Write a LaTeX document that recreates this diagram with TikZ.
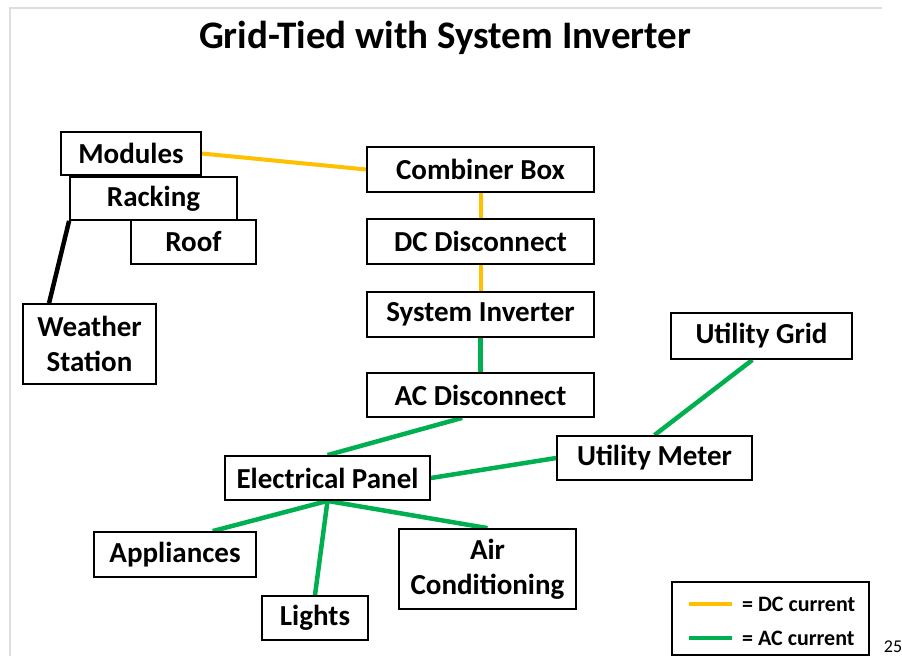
\documentclass[tikz,border=0pt]{standalone}
\usepackage{fontspec}
\setmainfont{Carlito}
\usepackage{tikz}
\usetikzlibrary{backgrounds, calc}
\definecolor{DCYellow}{RGB}{255,192,0}
\definecolor{ACGreen}{RGB}{0,176,80}
\definecolor{SlideGray}{RGB}{222,222,222}

\begin{document}
\begin{tikzpicture}[x=1pt, y=-1pt,
  part/.style={draw=black, line width=1.8pt, fill=white, inner sep=0pt,
               align=center, font=\fontsize{29}{35}\selectfont\bfseries},
  dcwire/.style={DCYellow, line width=4pt},
  acwire/.style={ACGreen, line width=4.5pt},
  mountwire/.style={black, line width=4.5pt}]
\useasboundingbox (0,0) rectangle (902,656);

% Slide frame
\draw[SlideGray, line width=1.5pt] (10,656) -- (10,8) -- (882,8);

% Title
\node[font=\fontsize{39}{45}\selectfont\bfseries] (title) at (445,38)
  {Grid-Tied with System Inverter};

% Array side: modules on racking on roof
\node[part, minimum width=140pt, minimum height=43pt] (modules) at (131,153.5) {Modules};
\node[part, minimum width=167pt, minimum height=43pt] (racking) at (153.5,198.5) {Racking};
\node[part, minimum width=125pt, minimum height=44pt] (roof) at (193.5,242) {Roof};
\node[part, minimum width=133pt, minimum height=80pt] (weather) at (89.5,344) {Weather\\Station};

% DC chain down to the inverter
\node[part, minimum width=227pt, minimum height=45pt] (combiner) at (480.5,169.5) {Combiner Box};
\node[part, minimum width=227pt, minimum height=45pt] (dcdisc) at (480.5,241.5) {DC Disconnect};
\node[part, minimum width=227pt, minimum height=45pt] (inverter) at (480.5,314.5) {System Inverter};
\node[part, minimum width=227pt, minimum height=44pt] (acdisc) at (480.5,395) {AC Disconnect};

% AC side
\node[part, minimum width=205pt, minimum height=44pt] (panel) at (327.5,478) {Electrical Panel};
\node[part, minimum width=195pt, minimum height=44pt] (meter) at (654.5,458) {Utility Meter};
\node[part, minimum width=181pt, minimum height=46pt] (grid) at (761.5,336) {Utility Grid};
\node[part, minimum width=162pt, minimum height=45pt] (appliances) at (175,554.5) {Appliances};
\node[part, minimum width=106pt, minimum height=44pt] (lights) at (315,618) {Lights};
\node[part, minimum width=177pt, minimum height=80pt] (aircon) at (487.5,569) {Air\\Conditioning};

% Wires
\begin{scope}[on background layer]
  \draw[mountwire] (racking.south west) -- ($(weather.north west)!0.2!(weather.north east)$);
  \draw[dcwire] (modules.east) -- (combiner.west);
  \draw[dcwire] (combiner.south) -- (dcdisc.north);
  \draw[dcwire] (dcdisc.south) -- (inverter.north);
  \draw[acwire] (inverter.south) -- (acdisc.north);
  \draw[acwire] ($(acdisc.south west)!0.42!(acdisc.south east)$) -- (panel.north);
  \draw[acwire] (panel.east) -- (meter.west);
  \draw[acwire] (meter.north) -- ($(grid.south west)!0.45!(grid.south east)$);
  \draw[acwire] (panel.south) -- ($(appliances.north west)!0.73!(appliances.north east)$);
  \draw[acwire] (panel.south) -- (lights.north);
  \draw[acwire] (panel.south) -- (aircon.north);
\end{scope}

% Legend
\node[draw=black, line width=1.8pt, minimum width=197pt, minimum height=73pt, inner sep=0pt]
  (legend) at (770.5,618.5) {};
\coordinate (dcA) at (689,604);
\coordinate (dcB) at (732,604);
\coordinate (acA) at (689,638);
\coordinate (acB) at (732,638);
\draw[DCYellow, line width=4pt] (dcA) -- (dcB);
\draw[ACGreen, line width=4pt] (acA) -- (acB);
\node[anchor=west, inner sep=0pt, font=\fontsize{22}{26}\selectfont\bfseries] (dclabel) at (742,604) {= DC current};
\node[anchor=west, inner sep=0pt, font=\fontsize{22}{26}\selectfont\bfseries] (aclabel) at (742,638) {= AC current};

% Slide number
\node[font=\fontsize{18}{22}\selectfont] (pagenum) at (893,647) {25};

\end{tikzpicture}
\end{document}
